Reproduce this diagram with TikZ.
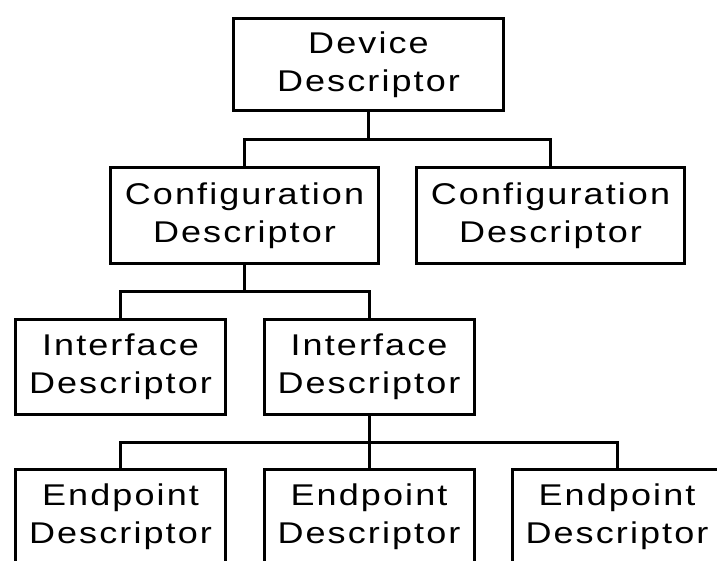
\documentclass[tikz,border=0pt]{standalone}
\usepackage{fontspec}
\setmainfont{Liberation Sans}[FakeStretch=1.2, LetterSpace=7]
\begin{document}
\begin{tikzpicture}[x=1pt,y=-1pt,
  desc/.style={draw, line width=3pt, inner sep=0pt, align=center,
    font=\fontsize{30}{38}\selectfont},
  devbox/.style={desc, minimum width=270pt, minimum height=92pt},
  cfgbox/.style={desc, minimum width=268pt, minimum height=96pt},
  ifbox/.style={desc, minimum width=210pt, minimum height=95pt},
  link/.style={line width=3pt}]
\useasboundingbox (0,0) rectangle (717,561);
\clip (0,0) rectangle (717,561);

% descriptor tree
\node[devbox] (dev)  at (368.5,64.5) {Device\\Descriptor};
\node[cfgbox] (cfg1) at (244.5,215.5) {Configuration\\Descriptor};
\node[cfgbox] (cfg2) at (550.5,215.5) {Configuration\\Descriptor};
\node[ifbox]  (if1)  at (120.5,367) {Interface\\Descriptor};
\node[ifbox]  (if2)  at (369,367)   {Interface\\Descriptor};
\node[ifbox]  (ep1)  at (120.5,517) {Endpoint\\Descriptor};
\node[ifbox]  (ep2)  at (369,517)   {Endpoint\\Descriptor};
\node[ifbox]  (ep3)  at (617,517)   {Endpoint\\Descriptor};

% branch points of the connectors
\coordinate (j1) at (dev.south |- 0,140);
\coordinate (j2) at (cfg1.south |- 0,291);
\coordinate (j3) at (if2.south |- 0,442);

\draw[link] (dev.south) -- (j1);
\draw[link] (cfg1.north) |- (j1) -| (cfg2.north);
\draw[link] (cfg1.south) -- (j2);
\draw[link] (if1.north) |- (j2) -| (if2.north);
\draw[link] (if2.south) -- (j3);
\draw[link] (ep1.north) |- (j3) -| (ep3.north);
\draw[link] (j3) -- (ep2.north);
\end{tikzpicture}
\end{document}
